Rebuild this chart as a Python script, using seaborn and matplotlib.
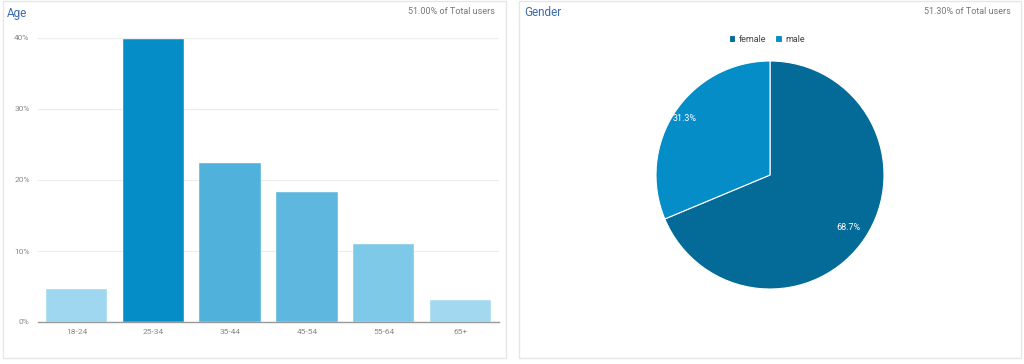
import pandas as pd
import seaborn as sns
import matplotlib.pyplot as plt
from matplotlib.patches import Rectangle

# Daten
age_groups = ['18-24', '25-34', '35-44', '45-54', '55-64', '65+']
age_share = [4.7, 39.8, 22.4, 18.3, 11.0, 3.1]
age_colors = ['#9ed7ef', '#058dc7', '#50b1da', '#5db7df', '#7ec8e8', '#a2d9f1']
age_ticks = [0, 10, 20, 30, 40]

genders = ['female', 'male']
gender_share = [68.7, 31.3]
gender_colors = ['#046a98', '#058dc7']

age_total = '51.00% of Total users'
gender_total = '51.30% of Total users'

sns.set_style('white')
plt.rcParams['font.family'] = ['Roboto', 'DejaVu Sans']

W, H = 1024, 364
fig = plt.figure(figsize=(W / 100, H / 100), dpi=100)

def px(x, y, w, h):
    return [x / W, 1 - (y + h) / H, w / W, h / H]

# Rahmen der beiden Karten
for x0, x1 in [(3, 506), (519, 1021)]:
    fig.patches.append(Rectangle((x0 / W, 1 - 358 / H), (x1 - x0) / W, 357 / H,
                                 transform=fig.transFigure, fill=False,
                                 edgecolor='#e6e6e6', linewidth=1))

title_col = '#3b6db0'
fig.text(7 / W, 1 - 13 / H, 'Age', color=title_col, fontsize=8.5, va='center')
fig.text(495 / W, 1 - 11 / H, age_total, color='#777777', fontsize=6.5, va='center', ha='right')
fig.text(524 / W, 1 - 13 / H, 'Gender', color=title_col, fontsize=8.5, va='center')
fig.text(1011 / W, 1 - 11 / H, gender_total, color='#777777', fontsize=6.5, va='center', ha='right')

# Balkendiagramm Alter
df = pd.DataFrame({'age': age_groups, 'share': age_share})
ax = fig.add_axes(px(38, 38, 461, 284))
sns.barplot(data=df, x='age', y='share', hue='age', palette=age_colors,
            legend=False, width=0.8, ax=ax, saturation=1)
for p in ax.patches:
    p.set_edgecolor('white')
    p.set_linewidth(0.3)
ax.set_ylim(0, 40)
ax.set_xlim(-0.5, 5.5)
ax.set_yticks(age_ticks)
ax.set_yticklabels([f'{t}%' for t in age_ticks])
ax.set_xlabel('')
ax.set_ylabel('')
ax.grid(axis='y', color='#ececec', linewidth=0.8)
ax.set_axisbelow(True)
for s in ['top', 'right', 'left']:
    ax.spines[s].set_visible(False)
ax.spines['bottom'].set_color('#999999')
ax.spines['bottom'].set_linewidth(1)
ax.tick_params(axis='both', length=0, labelsize=6, labelcolor='#888888')
ax.tick_params(axis='x', pad=5)
ax.tick_params(axis='y', pad=6)

# Kreisdiagramm Geschlecht
ax2 = fig.add_axes(px(656, 61, 228, 228))
wedges, _, autotexts = ax2.pie(gender_share, colors=gender_colors, startangle=90,
                               counterclock=False, autopct='%.1f%%', pctdistance=0.87,
                               wedgeprops=dict(edgecolor='white', linewidth=0.8),
                               textprops=dict(color='white', fontsize=6.5))
for t, r in zip(autotexts, [0.83, 0.90]):
    x, y = t.get_position()
    t.set_position((x * r / 0.87, y * r / 0.87))
ax2.set_xlim(-1, 1)
ax2.set_ylim(-1, 1)
ax2.set_aspect('equal')

# Legende
leg = fig.legend(wedges, genders, loc='center', bbox_to_anchor=(767 / W, 1 - 39 / H),
                 ncol=2, frameon=False, fontsize=6.5, handlelength=0.7, handleheight=0.7,
                 columnspacing=1.0, handletextpad=0.4)
for t in leg.get_texts():
    t.set_color('#444444')

fig.savefig('out.png', dpi=100, facecolor='white')
